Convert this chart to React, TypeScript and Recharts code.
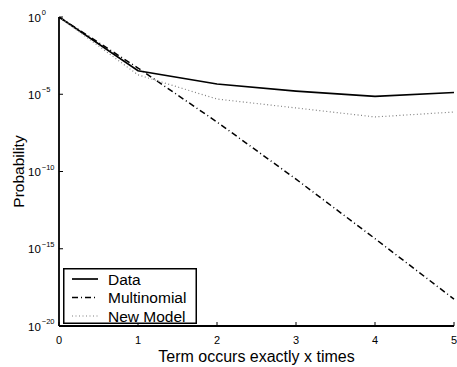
import React from "react";
import { LineChart, Line, XAxis, YAxis, Legend } from "recharts";

const xValues = [0, 1, 2, 3, 4, 5];
const dataValues = [1, 3.3e-4, 4.6e-5, 1.6e-5, 7.2e-6, 1.3e-5];
const multinomialValues = [1, 5e-4, 1.6e-7, 3.2e-11, 4.5e-15, 5.5e-19];
const newModelValues = [1, 1.8e-4, 4.9e-6, 1.3e-6, 3.4e-7, 7.1e-7];

const xTicks = [0, 1, 2, 3, 4, 5];
const yTicks = [1, 1e-5, 1e-10, 1e-15, 1e-20];
const yTickExponents = ["0", "\u22125", "\u221210", "\u221215", "\u221220"];

const seriesNames = ["Data", "Multinomial", "New Model"];

const rows = xValues.map((x, i) => ({
  x,
  data: dataValues[i],
  multinomial: multinomialValues[i],
  newModel: newModelValues[i],
}));

const FONT = "'Liberation Sans', Arial, Helvetica, sans-serif";
const TICK_LEN = 4;

const BottomTick = (props: any) => {
  const { x, y, payload } = props;
  return (
    <g>
      <line x1={x} x2={x} y1={y} y2={y - TICK_LEN} stroke="#000" strokeWidth={1} />
      <text x={x} y={y + 17.5} textAnchor="middle" fontSize={11} fontFamily={FONT} fill="#000">
        {payload.value}
      </text>
    </g>
  );
};

const TopTick = (props: any) => {
  const { x, y } = props;
  return <line x1={x} x2={x} y1={y} y2={y + TICK_LEN} stroke="#000" strokeWidth={1} />;
};

const LeftTick = (props: any) => {
  const { x, y, payload } = props;
  const idx = yTicks.findIndex((t) => Math.abs(Math.log10(t) - Math.log10(payload.value)) < 1e-6);
  const exp = idx >= 0 ? yTickExponents[idx] : "";
  return (
    <g>
      <line x1={x} x2={x + TICK_LEN} y1={y} y2={y} stroke="#000" strokeWidth={1} />
      <text x={28} y={y + 4.5} textAnchor="start" fontSize={11.5} fontFamily={FONT} fill="#000">
        <tspan>10</tspan>
        <tspan dx={1} dy={-6.5} fontSize={7.5}>{exp}</tspan>
      </text>
    </g>
  );
};

const RightTick = (props: any) => {
  const { x, y } = props;
  return <line x1={x} x2={x - TICK_LEN} y1={y} y2={y} stroke="#000" strokeWidth={1} />;
};

const LegendBox = () => {
  const items = [
    { name: seriesNames[0], stroke: "#000", dash: undefined as string | undefined, w: 1.7 },
    { name: seriesNames[1], stroke: "#000", dash: "6 3 1 3", w: 1.5 },
    { name: seriesNames[2], stroke: "#808080", dash: "1 2.5", w: 1.2 },
  ];
  return (
    <svg width={134} height={56} style={{ display: "block" }}>
      <rect x={0.75} y={0.75} width={132.5} height={54.5} fill="#fff" stroke="#000" strokeWidth={1.5} />
      {items.map((it, i) => {
        const cy = 11 + i * 18.5;
        return (
          <g key={it.name}>
            <line x1={9} x2={35} y1={cy} y2={cy} stroke={it.stroke} strokeWidth={it.w} strokeDasharray={it.dash} />
            <text x={45} y={cy + 5.5} fontSize={15.5} fontFamily={FONT} fill="#000">
              {it.name}
            </text>
          </g>
        );
      })}
    </svg>
  );
};

export default function App() {
  return (
    <div style={{ position: "absolute", left: 0, top: 0, width: 457, height: 367, background: "#fff" }}>
      <LineChart
        width={457}
        height={367}
        data={rows}
        margin={{ top: 17, right: 3, bottom: 0, left: 0 }}
      >
        <XAxis
          dataKey="x"
          type="number"
          domain={[0, 5]}
          ticks={xTicks}
          interval={0}
          height={41}
          tickSize={0}
          tickMargin={0}
          tickLine={false}
          axisLine={{ stroke: "#000", strokeWidth: 1.8 }}
          tick={<BottomTick />}
          label={{
            value: "Term occurs exactly x times",
            position: "insideBottom",
            offset: 5,
            fontSize: 16,
            fontFamily: FONT,
            fill: "#000",
          }}
        />
        <XAxis
          xAxisId="top"
          orientation="top"
          dataKey="x"
          type="number"
          domain={[0, 5]}
          ticks={xTicks}
          interval={0}
          height={0}
          tickSize={0}
          tickMargin={0}
          tickLine={false}
          axisLine={{ stroke: "#000", strokeWidth: 1.8 }}
          tick={<TopTick />}
        />
        <YAxis
          type="number"
          scale="log"
          domain={[1e-20, 1]}
          ticks={yTicks}
          interval={0}
          allowDataOverflow
          width={59}
          tickSize={0}
          tickMargin={0}
          tickLine={false}
          axisLine={{ stroke: "#000", strokeWidth: 1.8 }}
          tick={<LeftTick />}
          label={{
            value: "Probability",
            angle: -90,
            position: "insideLeft",
            offset: 18,
            fontSize: 15.5,
            fontFamily: FONT,
            fill: "#000",
            style: { textAnchor: "middle" },
          }}
        />
        <YAxis
          yAxisId="right"
          orientation="right"
          type="number"
          scale="log"
          domain={[1e-20, 1]}
          ticks={yTicks}
          interval={0}
          allowDataOverflow
          width={0}
          tickSize={0}
          tickMargin={0}
          tickLine={false}
          axisLine={{ stroke: "#000", strokeWidth: 1.8 }}
          tick={<RightTick />}
        />
        <Line
          dataKey="data"
          name={seriesNames[0]}
          stroke="#000"
          strokeWidth={1.7}
          dot={false}
          type="linear"
          isAnimationActive={false}
        />
        <Line
          dataKey="multinomial"
          name={seriesNames[1]}
          stroke="#000"
          strokeWidth={1.5}
          strokeDasharray="6 3 1 3"
          dot={false}
          type="linear"
          isAnimationActive={false}
        />
        <Line
          dataKey="newModel"
          name={seriesNames[2]}
          stroke="#808080"
          strokeWidth={1.2}
          strokeDasharray="1 2.5"
          dot={false}
          type="linear"
          isAnimationActive={false}
        />
        <Legend
          layout="horizontal"
          verticalAlign="middle"
          align="center"
          content={<LegendBox />}
          wrapperStyle={{ position: "absolute", left: 63, top: 268, width: 134, height: 56 }}
        />
      </LineChart>
    </div>
  );
}
